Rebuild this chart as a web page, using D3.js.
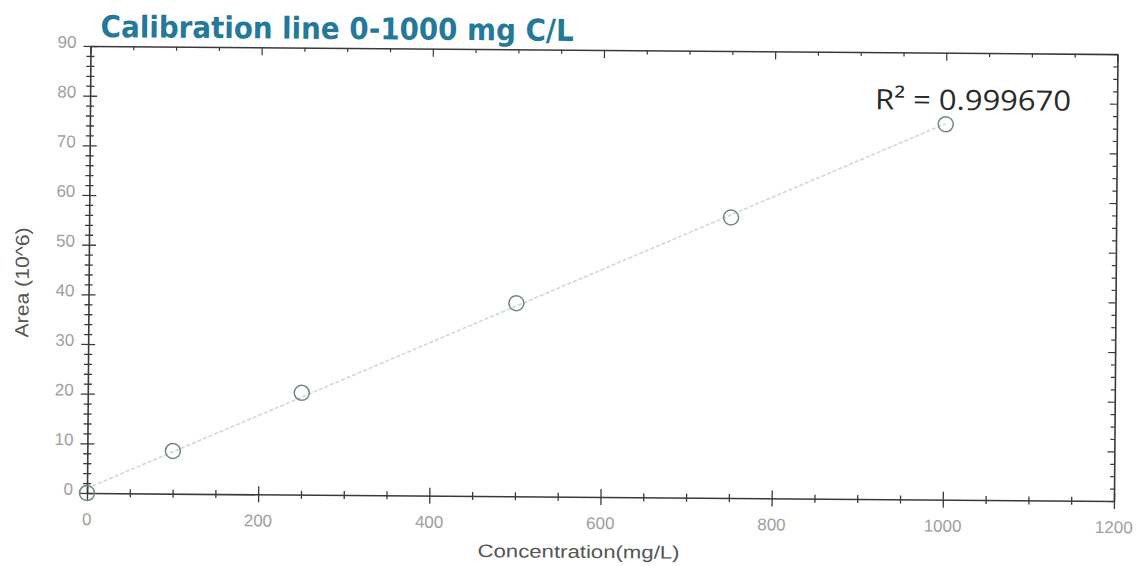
<!DOCTYPE html>
<html><head><meta charset="utf-8">
<script src="https://cdn.jsdelivr.net/npm/d3@7"></script>
<style>body{margin:0;background:#fff}</style>
</head><body>
<svg id="c" width="1136" height="566"></svg>
<script>
const concentrations = [0, 100, 250, 500, 750, 1000];
const areas = [0, 8.6, 20.5, 38.9, 56.5, 75.6];
const xTicks = [0, 200, 400, 600, 800, 1000, 1200];
const yTicks = [0, 10, 20, 30, 40, 50, 60, 70, 80, 90];
const titleText = "Calibration line 0-1000 mg C/L";
const r2Text = "R² = 0.999670";
const xLabel = "Concentration(mg/L)";
const yLabel = "Area (10^6)";

(function () {
const L = 87, T = 46, W = 1027, H = 447;
const svg = d3.select("#c");
const g = svg.append("g").attr("transform", `rotate(0.45, ${L}, ${T+H})`);

const x = d3.scaleLinear().domain([0, 1200]).range([L, L + W]);
const y = d3.scaleLinear().domain([0, 90]).range([T + H, T]);

const n = concentrations.length;
const mx = d3.mean(concentrations), my = d3.mean(areas);
let sxy = 0, sxx = 0;
for (let i = 0; i < n; i++) { sxy += (concentrations[i]-mx)*(areas[i]-my); sxx += (concentrations[i]-mx)**2; }
const slope = sxy / sxx, icpt = my - slope * mx;

g.append("line")
  .attr("x1", x(0)).attr("y1", y(icpt))
  .attr("x2", x(1000)).attr("y2", y(icpt + slope*1000))
  .attr("stroke", "#cddbd4").attr("stroke-width", 1.6).attr("stroke-dasharray", "4,2");

const axColor = "#3a3a3a";
const bottomAx = g.append("g").attr("transform", `translate(0,${T+H})`);
bottomAx.call(d3.axisBottom(x).tickValues(d3.range(0, 1201, 50)).tickSize(0).tickFormat(""));
bottomAx.select(".domain").attr("stroke", axColor).attr("stroke-width", 1.6);
bottomAx.selectAll(".tick").append("line")
  .attr("y1", d => d % 200 === 0 ? -8 : -4)
  .attr("y2", d => d % 200 === 0 ? 8 : 4)
  .attr("stroke", axColor).attr("stroke-width", 1.3);

const topAx = g.append("g").attr("transform", `translate(0,${T})`);
topAx.call(d3.axisTop(x).tickValues(d3.range(0, 1201, 50)).tickSize(0).tickFormat(""));
topAx.select(".domain").attr("stroke", axColor).attr("stroke-width", 1.6);
topAx.selectAll(".tick").append("line")
  .attr("y1", 0).attr("y2", d => d % 200 === 0 ? 8 : 4)
  .attr("stroke", axColor).attr("stroke-width", 1.2);

const leftAx = g.append("g").attr("transform", `translate(${L},0)`);
leftAx.call(d3.axisLeft(y).tickValues(d3.range(0, 91, 2)).tickSize(0).tickFormat(""));
leftAx.select(".domain").attr("stroke", axColor).attr("stroke-width", 1.6);
leftAx.selectAll(".tick").append("line")
  .attr("x1", d => d % 10 === 0 ? -7 : -4)
  .attr("x2", d => d % 10 === 0 ? 7 : 4)
  .attr("stroke", axColor).attr("stroke-width", 1.3);

const rightAx = g.append("g").attr("transform", `translate(${L+W},0)`);
rightAx.call(d3.axisRight(y).tickValues(d3.range(0, 90.1, 2.5)).tickSize(0).tickFormat(""));
rightAx.select(".domain").attr("stroke", axColor).attr("stroke-width", 1.6);
rightAx.selectAll(".tick").append("line")
  .attr("x1", 0).attr("x2", d => d % 10 === 0 ? -7 : -4)
  .attr("stroke", axColor).attr("stroke-width", 1.2);

const lblColor = "#a0a0a0";
g.selectAll(".xl").data(xTicks).enter().append("text")
  .attr("x", d => x(d)).attr("y", T + H + 32)
  .attr("text-anchor", "middle")
  .attr("font-family", "Liberation Sans, Arial, sans-serif").attr("font-size", 17)
  .attr("fill", lblColor).text(d => d);
g.selectAll(".yl").data(yTicks).enter().append("text")
  .attr("x", L - 14).attr("y", d => y(d) + 2)
  .attr("text-anchor", "end")
  .attr("font-family", "Liberation Sans, Arial, sans-serif").attr("font-size", 17)
  .attr("fill", lblColor).text(d => d);

g.selectAll(".pt").data(concentrations).enter().append("circle")
  .attr("cx", (d) => x(d)).attr("cy", (d, i) => y(areas[i]))
  .attr("r", 7.5).attr("fill", "none")
  .attr("stroke", "#71887f").attr("stroke-width", 1.5);

g.append("text").attr("x", 579).attr("y", 554).attr("text-anchor", "middle")
  .attr("font-family", "Liberation Sans, Arial, sans-serif").attr("font-size", 18)
  .attr("textLength", 202).attr("lengthAdjust", "spacingAndGlyphs")
  .attr("fill", "#555").text(xLabel);
g.append("text").attr("transform", `translate(27,${283}) rotate(-90)`).attr("text-anchor", "middle")
  .attr("font-family", "Liberation Sans, Arial, sans-serif").attr("font-size", 19)
  .attr("textLength", 110).attr("lengthAdjust", "spacingAndGlyphs")
  .attr("fill", "#555").text(yLabel);

g.append("text").attr("x", 97).attr("y", 37)
  .attr("font-family", "DejaVu Sans Condensed, DejaVu Sans, Verdana, sans-serif").attr("font-weight", "bold").attr("font-size", 30)
  .attr("textLength", 473).attr("lengthAdjust", "spacingAndGlyphs")
  .attr("fill", "#24789a").text(titleText);

g.append("text").attr("x", 872).attr("y", 103)
  .attr("font-family", "Open Sans, Liberation Sans, sans-serif").attr("font-size", 28)
  .attr("textLength", 196).attr("lengthAdjust", "spacingAndGlyphs")
  .attr("fill", "#2a2a2a").text(r2Text);
})();
</script>
</body></html>
